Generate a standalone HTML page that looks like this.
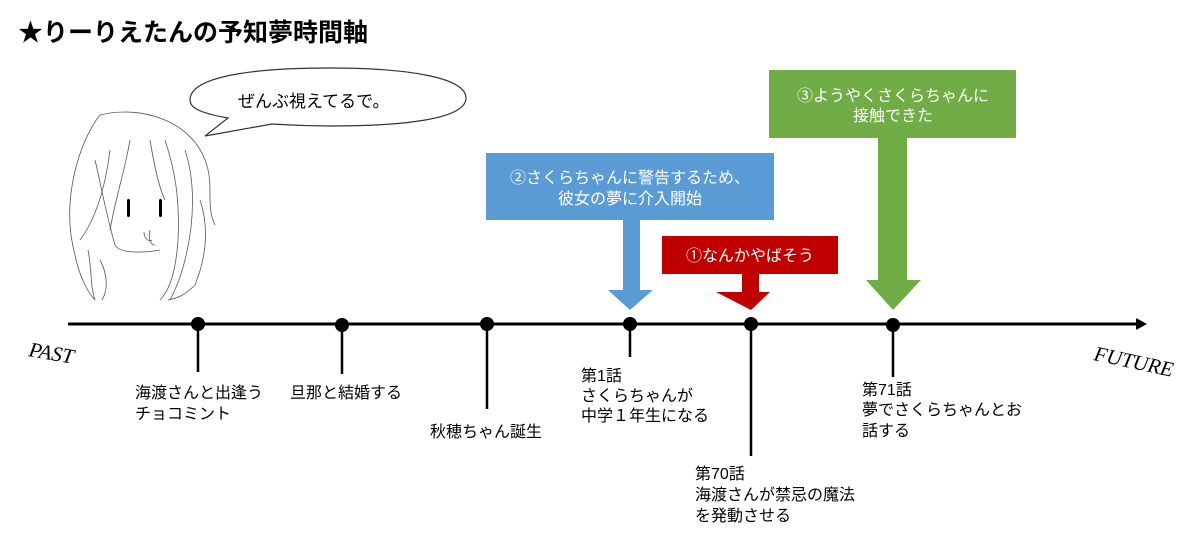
<!DOCTYPE html>
<html><head><meta charset="utf-8"><style>
html,body{margin:0;padding:0;background:#fff;}
svg{display:block;}
text{font-family:"Liberation Sans","Noto Sans CJK JP",sans-serif;}
</style></head><body>
<svg width="1200" height="548" viewBox="0 0 1200 548" xmlns="http://www.w3.org/2000/svg">
<text x="18" y="41" font-size="25" font-weight="bold" fill="#000">★りーりえたんの予知夢時間軸</text>

<!-- speech bubble -->
<path d="M190,100 C190,75 260,68 330,68 C410,68 466,78 466,98 C466,118 410,126 330,126 C300,126 290,125 272,124 L205,136 L228,118 C200,113 190,108 190,100 Z" fill="#fff" stroke="#333" stroke-width="1.2"/>
<text x="238" y="107" font-size="17" fill="#000">ぜんぶ視えてるで。</text>

<!-- character sketch -->
<g fill="none" stroke="#555" stroke-width="0.8">
<path d="M100,115 C80,140 60,200 75,255 C80,280 90,295 95,300"/>
<path d="M100,115 C140,105 190,120 205,160 C215,185 205,205 215,225"/>
<path d="M95,160 C100,180 105,210 115,245 C120,255 150,252 160,250"/>
<path d="M110,150 C105,190 95,220 80,240"/>
<path d="M130,140 C125,170 115,200 110,230"/>
<path d="M150,140 C155,170 160,190 165,200"/>
<path d="M165,140 C175,170 180,200 178,240 C176,270 170,290 160,300"/>
<path d="M185,150 C195,180 195,220 185,260 C180,280 175,290 170,300"/>
<path d="M200,200 C210,230 205,260 195,285 C185,295 178,298 168,300"/>
<path d="M88,250 C92,270 90,285 95,300"/>
<path d="M100,260 C108,275 108,290 102,300"/>
<path d="M150,230 C148,238 150,245 155,245"/>
<path d="M144,232 C144,238 148,242 152,240"/>
</g>
<rect x="127" y="199" width="3" height="18" rx="1.5" fill="#000"/>
<rect x="159" y="199" width="3" height="18" rx="1.5" fill="#000"/>

<!-- boxes & arrows -->
<rect x="486" y="153" width="288" height="67" fill="#5b9bd5"/>
<polygon points="623,220 640,220 640,290 653,290 630,310 608,290 623,290" fill="#5b9bd5"/>
<text x="630" y="183" font-size="16" fill="#fff" text-anchor="middle">②さくらちゃんに警告するため、</text>
<text x="630" y="204" font-size="16" fill="#fff" text-anchor="middle">彼女の夢に介入開始</text>

<rect x="662" y="236" width="176" height="38" fill="#c00000"/>
<polygon points="742,274 759,274 759,292 770,292 751,310 716,292 742,292" fill="#c00000"/>
<text x="750" y="261" font-size="16" fill="#fff" text-anchor="middle">①なんかやばそう</text>

<rect x="769" y="70" width="247" height="68" fill="#70ad47"/>
<polygon points="878,138 907,138 907,280 921,280 893,310 866,280 878,280" fill="#70ad47"/>
<text x="893" y="101" font-size="16" fill="#fff" text-anchor="middle">③ようやくさくらちゃんに</text>
<text x="893" y="121" font-size="16" fill="#fff" text-anchor="middle">接触できた</text>

<!-- timeline -->
<line x1="68" y1="324" x2="1140" y2="324" stroke="#000" stroke-width="3"/>
<polygon points="1136,318 1147,324 1136,330" fill="#000"/>
<g stroke="#000" stroke-width="2.5">
<line x1="198" y1="324" x2="198" y2="372"/>
<line x1="342" y1="324" x2="342" y2="374"/>
<line x1="487" y1="324" x2="487" y2="409"/>
<line x1="630" y1="324" x2="630" y2="357"/>
<line x1="751" y1="324" x2="751" y2="456"/>
<line x1="893" y1="324" x2="893" y2="377"/>
</g>
<g fill="#000">
<circle cx="198" cy="324" r="7"/><circle cx="342" cy="325" r="7"/><circle cx="487" cy="324" r="7"/>
<circle cx="630" cy="324" r="7"/><circle cx="751" cy="324" r="7"/><circle cx="893" cy="325" r="7"/>
</g>

<text x="0" y="0" font-size="21" font-style="italic" style="font-family:'Liberation Serif',serif" transform="translate(28,356) rotate(10)">PAST</text>
<text x="0" y="0" font-size="21" font-style="italic" style="font-family:'Liberation Serif',serif" transform="translate(1093,360) rotate(12)">FUTURE</text>

<g font-size="16" fill="#000">
<text x="135" y="398">海渡さんと出逢う</text>
<text x="135" y="419">チョコミント</text>
<text x="290" y="398">旦那と結婚する</text>
<text x="430" y="437">秋穂ちゃん誕生</text>
<text x="581" y="381">第1話</text>
<text x="581" y="401">さくらちゃんが</text>
<text x="581" y="421">中学１年生になる</text>
<text x="695" y="479">第70話</text>
<text x="695" y="500">海渡さんが禁忌の魔法</text>
<text x="695" y="521">を発動させる</text>
<text x="862" y="395">第71話</text>
<text x="862" y="415">夢でさくらちゃんとお</text>
<text x="862" y="436">話する</text>
</g>
</svg>
</body></html>
